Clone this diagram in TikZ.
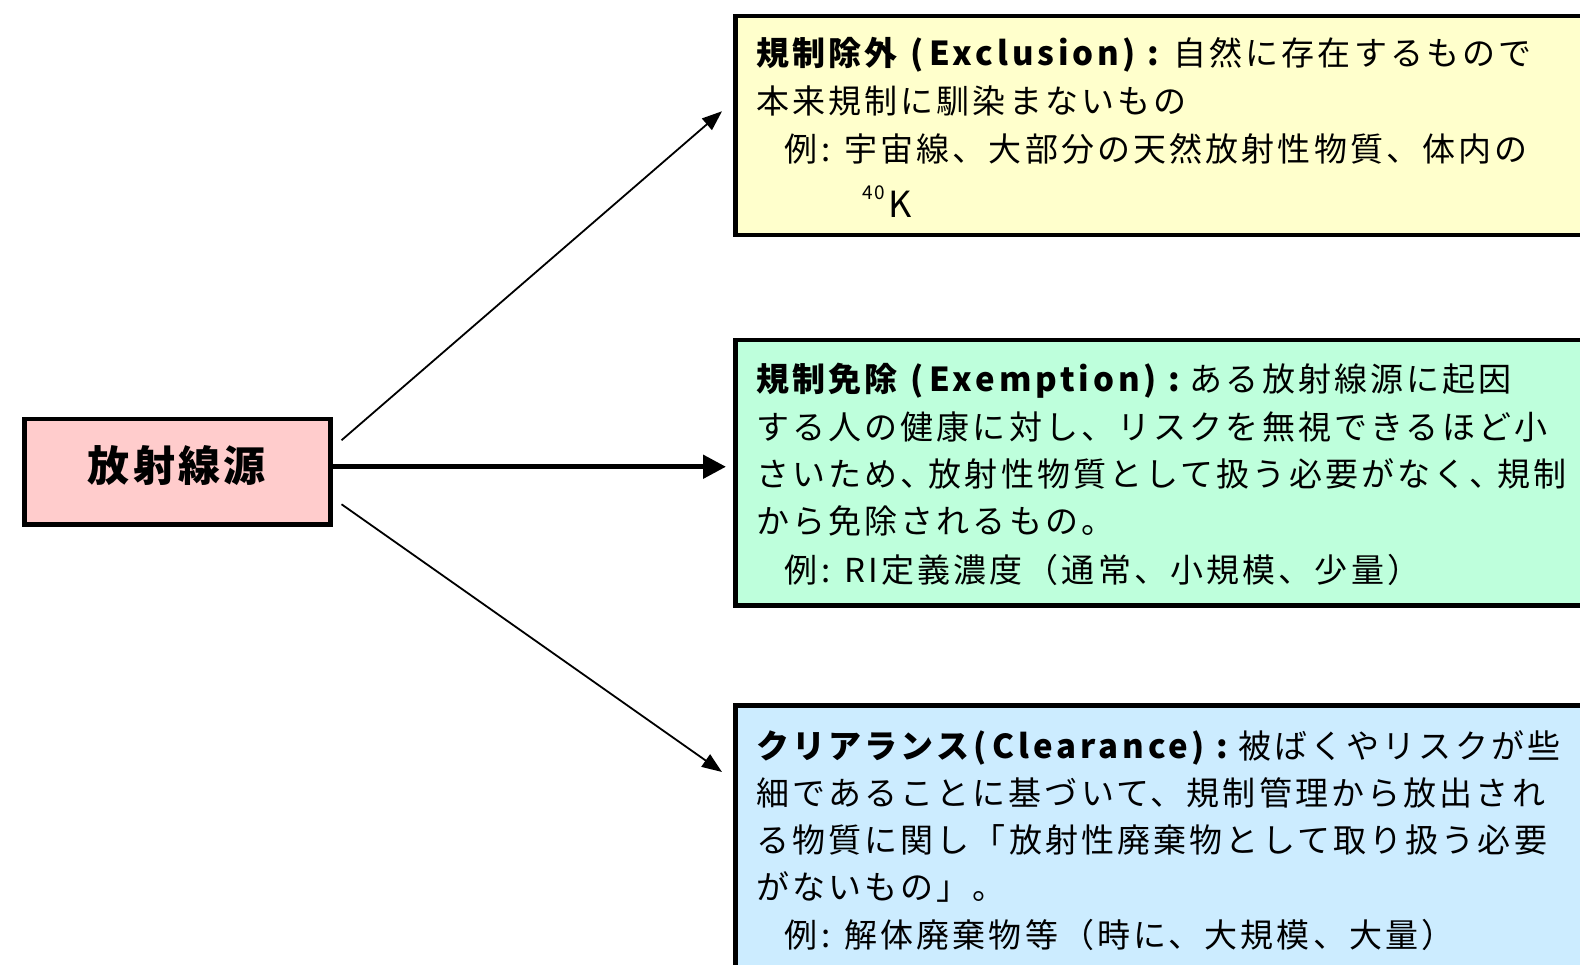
\documentclass[tikz,border=0pt]{standalone}
\usepackage{fontspec}
\newfontfamily\jp[LetterSpace=9.5]{Noto Sans CJK JP}
\newfontfamily\jplat[LetterSpace=12]{Noto Sans CJK JP}
\newfontfamily\jpsrc[LetterSpace=8]{Noto Sans CJK JP}
\usetikzlibrary{arrows.meta}
\definecolor{yelfill}{RGB}{255,255,204}
\definecolor{grnfill}{RGB}{190,255,220}
\definecolor{blufill}{RGB}{204,236,255}
\definecolor{pinkfill}{RGB}{255,204,204}
\newcommand{\hdlat}[1]{{\jplat\bfseries\hspace{13pt}(\hspace{6pt}#1\hspace{3pt})\hspace{12pt}:\hspace{10pt}}}
\newcommand{\excolon}{{\jplat\hspace{4pt}:\hspace{14pt}}}
\tikzset{
  box/.style={draw=black, line width=4.5pt, rectangle, inner sep=0pt, anchor=north west},
  txt/.style={anchor=base west, inner sep=0pt, font=\jp\fontsize{33}{33}\selectfont},
  thinarrow/.style={line width=1.8pt, -{Triangle[length=20pt,width=15pt]}},
  thickarrow/.style={line width=5pt, -{Triangle[length=23pt,width=23pt]}},
}
\begin{document}
\begin{tikzpicture}[x=1pt,y=-1pt]
\useasboundingbox (0,0) rectangle (1580,965);
\clip (0,0) rectangle (1580,965);
\fill[white] (0,0) rectangle (1580,965);
% boxes
\node[box, fill=pinkfill, minimum width=306pt, minimum height=105pt] (src) at (22,417) {};
\node[font=\jpsrc\bfseries\fontsize{42}{42}\selectfont, inner sep=0pt] (srct) at (177,466) {放射線源};
\node[box, fill=yelfill, minimum width=950pt, minimum height=219pt] (yel) at (733,14) {};
\node[box, fill=grnfill, minimum width=950pt, minimum height=265pt] (grn) at (733,338) {};
\node[box, fill=blufill, minimum width=950pt, minimum height=320pt] (blu) at (733,703) {};
% yellow text
\node[txt] (y1) at (756,66) {\bfseries 規制除外\hdlat{Exclusion}\hspace{4pt}\mdseries 自然に存在するもので};
\node[txt] (y2) at (756,113.5) {本来規制に馴染まないもの};
\node[txt] (y3) at (784,161.5) {例\excolon 宇宙線、大部分の天然放射性物質、体内の};
\node[txt, font=\jp\fontsize{19}{19}\selectfont] (y4a) at (862,200) {40};
\node[txt, font=\jp\fontsize{36}{36}\selectfont] (y4b) at (888,218) {K};
% green text
\node[txt] (g1) at (756,391.5) {\bfseries 規制免除\hdlat{Exemption}\mdseries ある放射線源に起因};
\node[txt] (g2) at (756,439.5) {する人の健康に対し、リスクを無視できるほど小};
\node[txt] (g3) at (756,486.5) {さいため、\hspace{-5pt}放射性物質として扱う必要がなく、\hspace{-5pt}規制};
\node[txt] (g4) at (756,533.5) {から免除されるもの。};
\node[txt] (g5) at (784,582.5) {例\excolon RI定義濃度（通常、小規模、少量）};
% blue text
\node[txt] (b1) at (756,758.5) {\bfseries クリアランス\hspace{-9pt}\hdlat{Clearance}\mdseries 被ばくやリスクが些};
\node[txt] (b2) at (756,805.5) {細であることに基づいて、規制管理から放出され};
\node[txt] (b3) at (756,852.5) {る物質に関し「放射性廃棄物として取り扱う必要};
\node[txt] (b4) at (756,899.5) {がないもの」。};
\node[txt] (b5) at (784,947.5) {例\excolon 解体廃棄物等（時に、大規模、大量）};
% connectors
\draw[thinarrow] ([shift={(9pt,31.5pt)}]src.east) -- ([shift={(-11pt,14.5pt)}]yel.west);
\draw[thickarrow] ([yshift=5pt]src.east) -- ([shift={(-7pt,6pt)}]grn.west);
\draw[thinarrow] ([shift={(9pt,-32.5pt)}]src.east) -- ([shift={(-11pt,-69pt)}]blu.north west);
\end{tikzpicture}
\end{document}
